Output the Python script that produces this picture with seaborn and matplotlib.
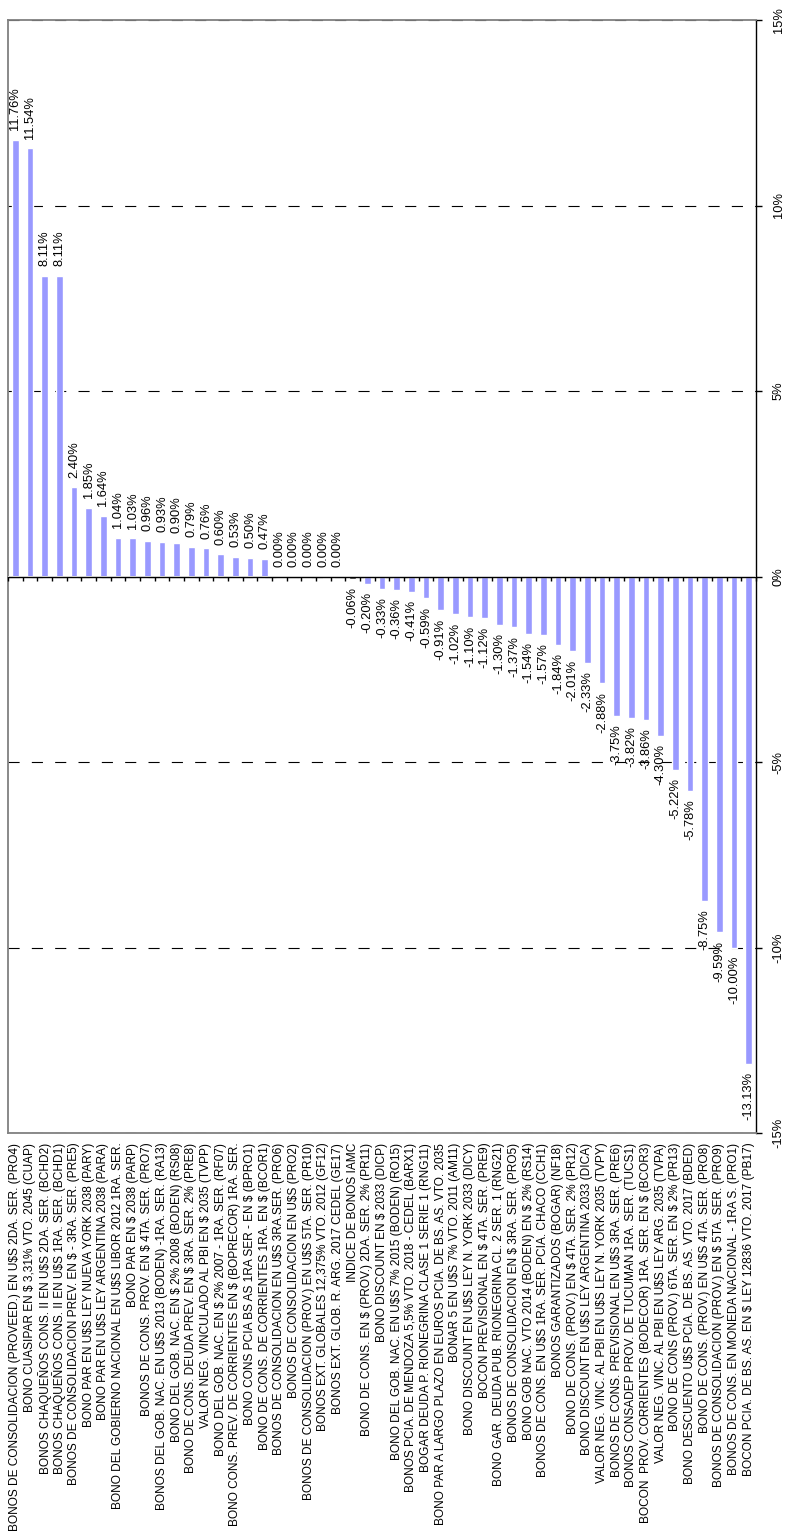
import numpy as np
import matplotlib
matplotlib.use("Agg")
import matplotlib.pyplot as plt
import seaborn as sns
from matplotlib.ticker import NullFormatter

# bonos, de mayor a menor variacion
bonos = [
    "BONOS DE CONSOLIDACION (PROVEED.) EN U$S 2DA. SER. (PRO4)",
    "BONO CUASIPAR EN $ 3,31% VTO. 2045 (CUAP)",
    "BONOS CHAQUEÑOS CONS. II EN U$S 2DA. SER. (BCHD2)",
    "BONOS CHAQUEÑOS CONS. II EN U$S 1RA. SER. (BCHD1)",
    "BONOS DE CONSOLIDACION PREV. EN $ - 3RA. SER. (PRE5)",
    "BONO PAR EN U$S LEY NUEVA YORK 2038 (PARY)",
    "BONO PAR EN U$S LEY ARGENTINA 2038 (PARA)",
    "BONO DEL GOBIERNO NACIONAL EN U$S LIBOR 2012 1RA. SER.",
    "BONO PAR EN $ 2038 (PARP)",
    "BONOS DE CONS. PROV. EN $ 4TA. SER. (PRO7)",
    "BONOS DEL GOB. NAC. EN U$S 2013 (BODEN) -1RA. SER. (RA13)",
    "BONO DEL GOB. NAC. EN $ 2% 2008 (BODEN) (RS08)",
    "BONO DE CONS. DEUDA PREV. EN $ 3RA. SER. 2% (PRE8)",
    "VALOR NEG. VINCULADO AL PBI EN $ 2035 (TVPP)",
    "BONO DEL GOB. NAC. EN $ 2% 2007 - 1RA. SER. (RF07)",
    "BONO CONS. PREV. DE CORRIENTES EN $ (BOPRECOR) 1RA. SER.",
    "BONO CONS PCIA BS AS 1RA SER - EN $ (BPRO1)",
    "BONO DE CONS. DE CORRIENTES 1RA. EN $ (BCOR1)",
    "BONOS DE CONSOLIDACION EN U$S 3RA.SER. (PRO6)",
    "BONOS DE CONSOLIDACION EN U$S (PRO2)",
    "BONOS DE CONSOLIDACION (PROV.) EN U$S 5TA. SER. (PR10)",
    "BONOS EXT. GLOBALES 12,375% VTO. 2012 (GF12)",
    "BONOS EXT. GLOB. R. ARG. 2017 CEDEL (GE17)",
    "INDICE DE BONOS IAMC",
    "BONO DE CONS. EN $ (PROV.) 2DA. SER. 2% (PR11)",
    "BONO DISCOUNT EN $ 2033 (DICP)",
    "BONO DEL GOB. NAC. EN U$S 7% 2015 (BODEN) (RO15)",
    "BONOS PCIA. DE MENDOZA 5,5% VTO. 2018 - CEDEL (BARX1)",
    "BOGAR DEUDA P. RIONEGRINA CLASE 1 SERIE 1 (RNG11)",
    "BONO PAR A LARGO PLAZO EN EUROS PCIA. DE BS. AS. VTO. 2035",
    "BONAR 5 EN U$S 7% VTO. 2011 (AM11)",
    "BONO DISCOUNT EN U$S LEY N. YORK 2033 (DICY)",
    "BOCON PREVISIONAL EN $ 4TA. SER. (PRE9)",
    "BONO GAR. DEUDA PUB. RIONEGRINA CL. 2 SER. 1 (RNG21)",
    "BONOS DE CONSOLIDACION EN $ 3RA. SER. (PRO5)",
    "BONO GOB NAC. VTO 2014 (BODEN) EN $ 2% (RS14)",
    "BONOS DE CONS. EN U$S 1RA. SER. PCIA. CHACO (CCH1)",
    "BONOS GARANTIZADOS (BOGAR) (NF18)",
    "BONO DE CONS. (PROV.) EN $ 4TA. SER. 2% (PR12)",
    "BONO DISCOUNT EN U$S LEY ARGENTINA 2033 (DICA)",
    "VALOR NEG. VINC. AL PBI EN U$S LEY N. YORK 2035 (TVPY)",
    "BONOS DE CONS. PREVISIONAL EN U$S 3RA. SER. (PRE6)",
    "BONOS CONSADEP PROV. DE TUCUMAN 1RA. SER. (TUCS1)",
    "BOCON  PROV. CORRIENTES (BODECOR) 1RA. SER. EN $ (BCOR3)",
    "VALOR NEG. VINC. AL PBI EN U$S LEY ARG. 2035 (TVPA)",
    "BONO DE CONS (PROV.) 6TA. SER. EN $ 2% (PR13)",
    "BONO DESCUENTO U$S PCIA. DE BS. AS. VTO. 2017 (BDED)",
    "BONO DE CONS. (PROV.) EN U$S 4TA. SER. (PRO8)",
    "BONOS DE CONSOLIDACION (PROV.) EN $ 5TA. SER. (PRO9)",
    "BONOS DE CONS. EN MONEDA NACIONAL - 1RA S. (PRO1)",
    "BOCON PCIA. DE BS. AS. EN $ LEY 12836 VTO. 2017 (PB17)",
]

variacion = [
    11.76, 11.54, 8.11, 8.11, 2.40, 1.85, 1.64, 1.04, 1.03, 0.96,
    0.93, 0.90, 0.79, 0.76, 0.60, 0.53, 0.50, 0.47, 0.00, 0.00,
    0.00, 0.00, 0.00, -0.06, -0.20, -0.33, -0.36, -0.41, -0.59, -0.91,
    -1.02, -1.10, -1.12, -1.30, -1.37, -1.54, -1.57, -1.84, -2.01, -2.33,
    -2.88, -3.75, -3.82, -3.86, -4.30, -5.22, -5.78, -8.75, -9.59, -10.00,
    -13.13,
]

y_ticks = [-15, -10, -5, 0, 5, 10, 15]
y_tick_labels = ["-15%", "-10%", "-5%", "0%", "5%", "10%", "15%"]

sns.set_style("white")
plt.rcParams['font.family'] = ['Liberation Sans', 'DejaVu Sans']
plt.rcParams['text.color'] = 'black'
plt.rcParams['xtick.color'] = 'black'
plt.rcParams['ytick.color'] = 'black'

fig = plt.figure(figsize=(7.85, 15.4), dpi=100)
ax = fig.add_axes([8 / 785, 1 - 1133 / 1540, 748 / 785, 1113 / 1540])

# el indice va en negro, el resto en lila
colores = {b: ('#000000' if b.startswith('INDICE') else '#9999FF') for b in bonos}
sns.barplot(x=bonos, y=variacion, order=bonos, hue=bonos, palette=colores,
            legend=False, width=0.47, saturation=1, ax=ax)

ax.set_xlim(-0.5, len(bonos) - 0.5)
ax.set_ylim(-15, 15)
ax.set_xlabel('')
ax.set_ylabel('')

# etiquetas de valor
for i, v in enumerate(variacion):
    off = 7 if v >= 0 else -6
    ax.annotate(f"{v:.2f}%", xy=(i, v), xytext=(0, off), textcoords='offset points',
                ha='center', va='bottom' if v >= 0 else 'top', rotation=90, fontsize=9.3)

# eje de valores a la derecha
ax.yaxis.tick_right()
ax.set_yticks(y_ticks)
ax.set_yticklabels(y_tick_labels, rotation=90, va='center')
ax.tick_params(axis='y', length=4, width=1, pad=8, labelsize=9.3, direction='out',
               right=True, left=False)
ax.tick_params(axis='x', length=0, pad=7, labelsize=8.6)
plt.setp(ax.get_xticklabels(), rotation=90, ha='center', va='top')

ax.yaxis.grid(True, color='black', linestyle=(0, (10, 11)), linewidth=0.8)
ax.set_axisbelow(True)

for s in ['left', 'top', 'bottom']:
    ax.spines[s].set_color('#808080')
    ax.spines[s].set_linewidth(1.3)
ax.spines['right'].set_color('black')
ax.spines['right'].set_linewidth(1)

# linea del cero con marcas entre categorias
sec = ax.secondary_xaxis(0.5)
sec.set_alignment('bottom')
sec.set_xticks(np.arange(-0.5, len(bonos)))
sec.xaxis.set_major_formatter(NullFormatter())
sec.tick_params(length=3, width=1, color='black', direction='out')
sec.spines['bottom'].set_color('black')
sec.spines['bottom'].set_linewidth(1)
sec.set_zorder(3)

plt.savefig('out.png', dpi=100)
